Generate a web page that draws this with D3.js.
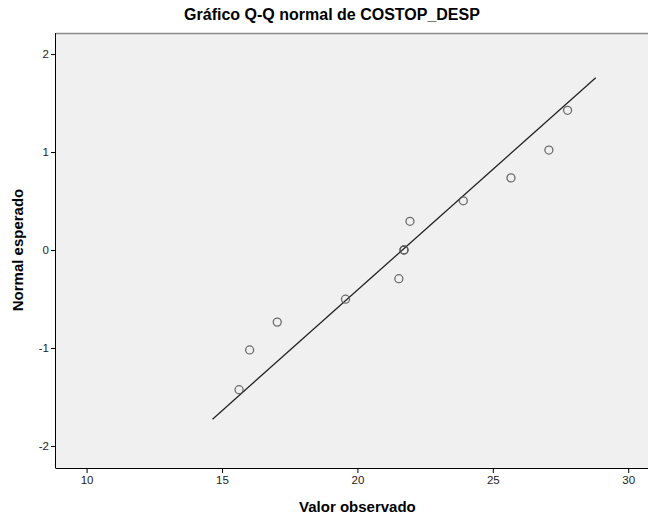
<!doctype html>
<html lang="es">
<head>
  <meta charset="utf-8">
  <style>
    body { margin: 0; background: #fff; }
    svg text { font-family: "Liberation Sans", Arial, sans-serif; }
    .tick-label { font-size: 11.5px; fill: #222; }
    .axis-title { font-size: 15px; font-weight: bold; fill: #000; }
    .title { font-size: 16px; font-weight: bold; fill: #000; }
  </style>
  <script src="https://d3js.org/d3.v7.min.js"></script>
</head>
<body>
  <script>
    // observed values (x) and expected normal quantiles (y)
    const observed = [15.63, 16.02, 17.04, 19.56, 21.53, 21.72, 21.72, 21.94, 23.91, 25.67, 27.07, 27.76];
    const expected = [-1.426, -1.020, -0.736, -0.502, -0.293, 0, 0, 0.293, 0.502, 0.736, 1.020, 1.426];
    const xTicks = [10, 15, 20, 25, 30];
    const yTicks = [-2, -1, 0, 1, 2];
    // reference line: y = (x - mean) / sd, drawn between these x values
    const lineEnds = [14.65, 28.80];
    const lineMean = 21.66;
    const lineSd = 4.06;

    const W = 648, H = 518;
    const plot = { left: 56, right: 660, top: 33, bottom: 468 };

    const svg = d3.select("body")
      .append("svg")
      .attr("width", W)
      .attr("height", H);

    const x = d3.scaleLinear()
      .domain([8.87, 30.73 + (660 - 648) / 27.08])
      .range([plot.left, plot.right]);

    const y = d3.scaleLinear()
      .domain([-2.225, 2.215])
      .range([plot.bottom, plot.top]);

    // plot background
    svg.append("rect")
      .attr("x", plot.left)
      .attr("y", plot.top)
      .attr("width", plot.right - plot.left)
      .attr("height", plot.bottom - plot.top)
      .attr("fill", "#f0f0f0");

    // top border (grey)
    svg.append("line")
      .attr("x1", plot.left).attr("x2", plot.right)
      .attr("y1", plot.top + 0.5).attr("y2", plot.top + 0.5)
      .attr("stroke", "#8a8a8a").attr("stroke-width", 1.6);

    // SPSS uses a plain hyphen for negatives
    const fmt = d => String(d);

    // axes
    const xAxis = svg.append("g")
      .attr("transform", `translate(0,${plot.bottom})`)
      .call(d3.axisBottom(x).tickValues(xTicks).tickFormat(fmt).tickSize(5).tickPadding(3));
    xAxis.select(".domain").attr("stroke", "#000").attr("d", `M${plot.left},0.5H${plot.right}`);
    xAxis.selectAll(".tick line").attr("stroke", "#000");
    xAxis.selectAll(".tick text").attr("class", "tick-label").attr("font-family", null).attr("font-size", null);

    const yAxis = svg.append("g")
      .attr("transform", `translate(${plot.left},0)`)
      .call(d3.axisLeft(y).tickValues(yTicks).tickFormat(fmt).tickSize(5).tickPadding(2));
    yAxis.select(".domain").attr("stroke", "#000").attr("d", `M-0.5,${plot.top}V${plot.bottom + 0.5}`);
    yAxis.selectAll(".tick line").attr("stroke", "#000");
    yAxis.selectAll(".tick text").attr("class", "tick-label").attr("font-family", null).attr("font-size", null);

    // reference line
    svg.append("line")
      .attr("x1", x(lineEnds[0]))
      .attr("y1", y((lineEnds[0] - lineMean) / lineSd))
      .attr("x2", x(lineEnds[1]))
      .attr("y2", y((lineEnds[1] - lineMean) / lineSd))
      .attr("stroke", "#222")
      .attr("stroke-width", 1.3);

    // points
    svg.append("g")
      .selectAll("circle")
      .data(observed.map((v, i) => ({ x: v, y: expected[i] })))
      .join("circle")
      .attr("cx", d => x(d.x))
      .attr("cy", d => y(d.y))
      .attr("r", 4)
      .attr("fill", "none")
      .attr("stroke", "#555")
      .attr("stroke-opacity", 0.85)
      .attr("stroke-width", 1.3);

    // titles
    svg.append("text")
      .attr("class", "title")
      .attr("x", 332)
      .attr("y", 20)
      .attr("text-anchor", "middle")
      .text("Gráfico Q-Q normal de COSTOP_DESP");

    svg.append("text")
      .attr("class", "axis-title")
      .attr("x", x(20))
      .attr("y", 512)
      .attr("text-anchor", "middle")
      .text("Valor observado");

    svg.append("text")
      .attr("class", "axis-title")
      .attr("transform", `translate(23,${y(0)}) rotate(-90)`)
      .attr("text-anchor", "middle")
      .text("Normal esperado");
  </script>
</body>
</html>
